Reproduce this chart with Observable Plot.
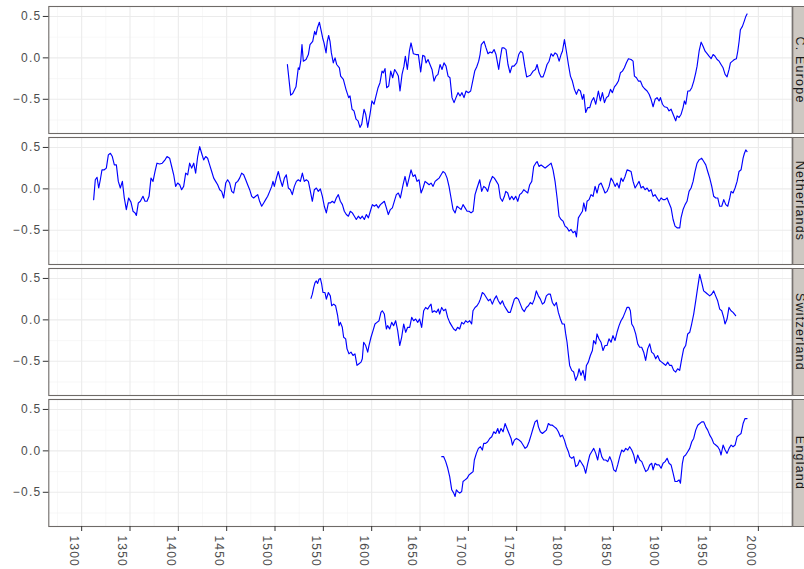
<!DOCTYPE html>
<html>
<head>
<meta charset="utf-8">
<script src="https://cdn.jsdelivr.net/npm/d3@7"></script>
<script src="https://cdn.jsdelivr.net/npm/@observablehq/plot@0.6"></script>
<style>
html, body { margin: 0; padding: 0; background: #ffffff; overflow: hidden; }
#chart svg { display: block; }
#chart svg text { letter-spacing: 1.2px; }
</style>
</head>
<body>
<div id="chart"></div>
<script>
// Facet order (top to bottom)
const regions = ["C. Europe", "Netherlands", "Switzerland", "England"];

// Tick values
const xTicks = [1300, 1350, 1400, 1450, 1500, 1550, 1600, 1650, 1700, 1750, 1800, 1850, 1900, 1950, 2000];
const xMinor = [1275, 1325, 1375, 1425, 1475, 1525, 1575, 1625, 1675, 1725, 1775, 1825, 1875, 1925, 1975, 2025];
const yTicks = [-0.5, 0.0, 0.5];
const yMinor = [-0.75, -0.25, 0.25];

// [year, anomaly] pairs
const cEurope = [[1512.8,-0.08],[1516.2,-0.45],[1518.3,-0.43],[1521.7,-0.35],[1524.1,-0.12],[1525.2,-0.14],[1526.6,-0.04],[1527.9,0.16],[1529.3,-0.04],[1532.1,-0.02],[1534.5,0.04],[1536.2,0.16],[1539.0,0.20],[1541.0,0.32],[1542.4,0.28],[1543.8,0.36],[1545.9,0.43],[1547.2,0.36],[1549.3,0.24],[1550.7,0.18],[1552.8,0.06],[1554.1,0.20],[1555.5,0.27],[1556.9,0.20],[1558.3,0.06],[1560.3,-0.06],[1562.1,0.00],[1563.8,-0.08],[1566.6,-0.12],[1567.9,-0.22],[1570.7,-0.26],[1573.4,-0.38],[1576.2,-0.48],[1577.6,-0.46],[1579.7,-0.62],[1581.7,-0.64],[1583.8,-0.74],[1585.9,-0.76],[1587.9,-0.84],[1589.7,-0.80],[1592.1,-0.62],[1593.8,-0.68],[1595.9,-0.84],[1598.3,-0.68],[1600.3,-0.52],[1602.4,-0.56],[1604.5,-0.46],[1606.6,-0.36],[1608.6,-0.30],[1610.7,-0.16],[1612.1,-0.18],[1613.8,-0.13],[1615.5,-0.36],[1617.6,-0.34],[1619.7,-0.16],[1621.7,-0.24],[1623.8,-0.14],[1625.9,-0.18],[1627.6,-0.22],[1629.3,-0.40],[1631.4,-0.20],[1633.4,-0.10],[1634.8,0.02],[1636.9,-0.14],[1639.0,0.08],[1640.7,0.18],[1643.1,0.05],[1645.9,0.04],[1648.3,0.04],[1650.7,-0.17],[1652.8,0.03],[1654.8,0.02],[1656.2,-0.06],[1658.3,-0.02],[1660.3,-0.08],[1662.4,-0.14],[1664.5,-0.28],[1666.6,-0.22],[1668.6,-0.20],[1670.7,-0.08],[1672.8,-0.14],[1674.8,-0.06],[1676.9,-0.10],[1679.0,-0.22],[1681.0,-0.24],[1683.1,-0.48],[1685.2,-0.54],[1687.2,-0.48],[1689.3,-0.42],[1691.4,-0.46],[1693.4,-0.42],[1695.5,-0.48],[1697.6,-0.40],[1700.0,-0.42],[1702.4,-0.40],[1704.5,-0.28],[1706.6,-0.16],[1708.6,-0.11],[1710.7,-0.04],[1712.1,0.04],[1713.4,0.16],[1716.2,0.20],[1718.3,0.12],[1720.3,0.05],[1722.4,0.07],[1724.5,0.06],[1726.6,0.10],[1728.6,0.04],[1731.4,-0.14],[1732.8,-0.02],[1734.8,0.12],[1736.9,0.12],[1739.0,0.10],[1741.0,-0.08],[1743.1,-0.18],[1745.2,-0.10],[1747.2,-0.10],[1750.0,-0.06],[1752.1,0.04],[1754.1,0.08],[1756.2,0.06],[1758.3,-0.10],[1760.3,-0.23],[1762.4,-0.22],[1764.2,-0.21],[1767.0,-0.16],[1769.4,-0.14],[1771.1,-0.08],[1773.2,-0.18],[1775.2,-0.23],[1777.3,-0.23],[1779.4,-0.16],[1781.4,-0.08],[1783.5,-0.04],[1785.6,0.05],[1787.6,0.02],[1789.7,0.06],[1791.8,0.04],[1793.9,-0.04],[1795.9,0.04],[1797.3,0.08],[1799.4,0.22],[1801.4,0.08],[1803.5,-0.08],[1805.6,-0.22],[1807.6,-0.28],[1809.7,-0.38],[1811.8,-0.44],[1813.9,-0.38],[1815.9,-0.40],[1818.0,-0.50],[1819.4,-0.44],[1821.4,-0.66],[1823.5,-0.60],[1825.6,-0.60],[1827.6,-0.52],[1829.7,-0.48],[1831.8,-0.56],[1834.5,-0.40],[1836.6,-0.52],[1838.7,-0.42],[1840.8,-0.54],[1842.8,-0.48],[1844.9,-0.46],[1847.0,-0.38],[1849.0,-0.42],[1851.1,-0.35],[1853.2,-0.32],[1855.2,-0.28],[1857.3,-0.18],[1859.4,-0.16],[1861.4,-0.12],[1863.5,-0.06],[1865.6,-0.01],[1868.3,-0.02],[1870.4,-0.04],[1871.8,-0.22],[1873.9,-0.24],[1875.9,-0.28],[1878.0,-0.28],[1880.1,-0.34],[1882.1,-0.37],[1884.9,-0.40],[1887.0,-0.44],[1889.0,-0.50],[1891.1,-0.59],[1893.2,-0.50],[1895.2,-0.48],[1897.3,-0.52],[1898.7,-0.48],[1900.8,-0.56],[1902.8,-0.59],[1905.6,-0.60],[1907.6,-0.64],[1909.7,-0.62],[1911.8,-0.68],[1914.5,-0.76],[1915.9,-0.70],[1918.0,-0.72],[1920.1,-0.68],[1922.1,-0.60],[1923.5,-0.52],[1924.9,-0.56],[1927.0,-0.40],[1929.0,-0.40],[1931.1,-0.36],[1933.2,-0.28],[1935.2,-0.18],[1936.6,-0.10],[1938.7,0.08],[1940.8,0.19],[1942.8,0.14],[1944.9,0.08],[1947.0,0.05],[1949.0,0.02],[1951.1,-0.01],[1953.2,0.04],[1955.2,0.02],[1957.3,-0.02],[1959.4,-0.04],[1961.4,-0.08],[1963.5,-0.12],[1965.6,-0.20],[1967.6,-0.23],[1969.7,-0.14],[1971.1,-0.06],[1973.2,-0.04],[1975.2,-0.02],[1977.3,-0.01],[1978.7,0.08],[1980.1,0.20],[1981.4,0.34],[1983.5,0.38],[1985.6,0.45],[1987.0,0.50],[1988.3,0.53]];

const netherlands = [[1312.4,-0.13],[1314.1,0.11],[1315.9,0.14],[1317.6,0.01],[1319.3,0.11],[1321.0,0.23],[1323.4,0.23],[1325.5,0.25],[1327.6,0.41],[1329.7,0.43],[1331.7,0.39],[1333.8,0.29],[1335.9,0.29],[1337.9,0.09],[1340.0,0.01],[1342.1,0.09],[1344.1,-0.11],[1346.2,-0.25],[1348.6,-0.11],[1351.0,-0.16],[1353.1,-0.27],[1355.2,-0.29],[1356.6,-0.32],[1358.6,-0.17],[1360.7,-0.15],[1363.4,-0.09],[1365.5,-0.15],[1367.6,-0.15],[1369.7,-0.09],[1371.7,0.13],[1373.8,0.09],[1375.9,0.21],[1377.9,0.31],[1380.7,0.30],[1383.4,0.31],[1386.2,0.35],[1388.3,0.39],[1391.0,0.37],[1393.1,0.27],[1395.2,0.17],[1397.2,0.03],[1399.3,0.07],[1401.4,0.05],[1403.4,-0.01],[1405.5,0.03],[1407.6,0.19],[1409.7,0.17],[1411.7,0.31],[1413.8,0.25],[1415.9,0.31],[1417.9,0.19],[1420.0,0.39],[1422.1,0.51],[1424.1,0.43],[1426.2,0.35],[1428.3,0.39],[1430.3,0.37],[1432.4,0.29],[1434.5,0.21],[1436.6,0.13],[1438.6,0.09],[1440.7,0.05],[1442.8,-0.01],[1444.8,-0.03],[1446.9,-0.11],[1449.0,0.07],[1451.0,0.11],[1453.1,0.07],[1455.2,-0.03],[1457.2,-0.05],[1459.3,0.07],[1461.4,0.09],[1463.4,0.13],[1465.5,0.19],[1467.6,0.17],[1469.7,0.11],[1471.7,0.05],[1473.8,-0.01],[1475.9,-0.09],[1477.9,-0.11],[1480.0,-0.09],[1482.1,-0.07],[1484.1,-0.15],[1486.2,-0.21],[1488.3,-0.17],[1490.3,-0.13],[1492.4,-0.09],[1494.5,-0.03],[1496.6,0.03],[1497.9,0.09],[1499.3,0.03],[1501.4,0.13],[1503.4,0.21],[1505.5,0.11],[1507.6,0.03],[1509.7,0.13],[1511.7,0.17],[1513.8,0.01],[1515.9,-0.01],[1517.9,-0.07],[1520.0,0.03],[1522.1,0.09],[1524.1,0.11],[1526.2,0.09],[1528.3,0.19],[1530.3,0.09],[1532.4,0.11],[1534.5,0.09],[1536.6,-0.03],[1538.6,-0.15],[1540.7,-0.01],[1542.8,0.01],[1544.8,-0.03],[1546.9,0.00],[1549.0,-0.09],[1551.0,-0.21],[1553.1,-0.29],[1555.2,-0.17],[1557.2,-0.17],[1559.3,-0.15],[1561.4,-0.17],[1563.4,-0.11],[1565.5,-0.07],[1567.6,-0.15],[1569.7,-0.19],[1571.7,-0.27],[1573.8,-0.31],[1575.9,-0.33],[1577.9,-0.27],[1580.0,-0.29],[1582.1,-0.33],[1584.1,-0.37],[1586.2,-0.33],[1588.3,-0.36],[1590.3,-0.33],[1592.4,-0.37],[1594.5,-0.31],[1596.6,-0.35],[1598.6,-0.27],[1600.7,-0.19],[1602.8,-0.21],[1604.8,-0.19],[1606.9,-0.23],[1609.0,-0.19],[1611.0,-0.17],[1613.1,-0.15],[1615.2,-0.23],[1617.2,-0.31],[1619.3,-0.25],[1621.4,-0.23],[1623.4,-0.15],[1625.5,-0.07],[1627.6,-0.05],[1629.7,-0.11],[1632.5,0.05],[1634.5,0.15],[1636.6,0.03],[1638.7,0.13],[1640.7,0.23],[1642.8,0.15],[1644.9,0.17],[1646.9,0.09],[1649.0,0.11],[1651.1,-0.05],[1653.1,0.01],[1655.2,0.09],[1657.3,0.07],[1659.4,0.05],[1661.4,0.07],[1663.5,0.03],[1665.6,0.09],[1667.6,0.11],[1669.7,0.13],[1671.8,0.17],[1673.8,0.21],[1675.9,0.19],[1678.0,0.13],[1680.0,0.03],[1682.1,-0.11],[1684.2,-0.25],[1686.3,-0.29],[1688.3,-0.21],[1690.4,-0.23],[1692.5,-0.25],[1694.5,-0.19],[1696.6,-0.23],[1698.7,-0.27],[1700.7,-0.27],[1702.8,-0.29],[1704.9,-0.27],[1706.9,-0.07],[1709.0,0.01],[1711.8,0.11],[1713.8,-0.03],[1715.9,0.03],[1718.0,0.01],[1720.0,-0.03],[1722.1,0.07],[1724.9,0.15],[1726.9,0.13],[1729.0,0.09],[1731.1,0.05],[1733.1,-0.11],[1735.2,-0.15],[1737.3,-0.09],[1738.7,-0.03],[1740.7,-0.05],[1742.8,-0.13],[1744.9,-0.09],[1746.9,-0.13],[1749.0,-0.09],[1751.1,-0.15],[1753.1,-0.07],[1755.2,-0.05],[1757.3,-0.01],[1759.4,-0.03],[1761.4,-0.05],[1763.5,0.05],[1765.6,0.09],[1767.6,0.27],[1769.7,0.31],[1771.1,0.33],[1773.2,0.27],[1775.2,0.29],[1777.3,0.27],[1779.4,0.25],[1781.4,0.27],[1783.5,0.29],[1785.6,0.31],[1787.6,0.23],[1789.7,0.09],[1791.8,-0.11],[1793.8,-0.33],[1795.9,-0.37],[1798.0,-0.39],[1800.0,-0.45],[1802.1,-0.47],[1804.2,-0.51],[1806.2,-0.49],[1808.3,-0.53],[1810.4,-0.51],[1811.8,-0.58],[1813.8,-0.35],[1815.9,-0.31],[1818.0,-0.27],[1819.4,-0.17],[1821.4,-0.27],[1822.8,-0.15],[1824.9,-0.13],[1826.9,-0.07],[1829.0,-0.09],[1831.1,0.03],[1833.1,-0.05],[1835.2,0.05],[1837.3,0.07],[1839.4,0.01],[1841.4,-0.05],[1843.5,-0.03],[1845.6,0.03],[1847.6,0.13],[1849.7,0.09],[1851.8,0.03],[1853.8,0.07],[1855.9,0.01],[1858.0,0.13],[1860.0,0.09],[1862.1,0.15],[1864.2,0.23],[1866.3,0.22],[1868.3,0.21],[1870.4,0.09],[1872.5,0.01],[1874.5,0.05],[1876.6,0.09],[1878.7,0.01],[1880.7,0.03],[1882.8,-0.01],[1884.9,0.01],[1886.9,-0.03],[1889.0,-0.01],[1891.1,-0.09],[1893.1,-0.07],[1895.2,-0.11],[1897.3,-0.15],[1899.4,-0.11],[1901.4,-0.13],[1903.5,-0.13],[1905.6,-0.11],[1907.6,-0.17],[1909.7,-0.23],[1911.8,-0.37],[1913.8,-0.45],[1915.9,-0.47],[1918.7,-0.47],[1920.0,-0.35],[1922.1,-0.25],[1924.2,-0.19],[1926.2,-0.15],[1928.3,-0.03],[1930.4,0.01],[1932.5,0.09],[1934.5,0.21],[1936.6,0.31],[1938.7,0.35],[1941.4,0.37],[1943.5,0.33],[1945.6,0.29],[1947.6,0.21],[1949.7,0.13],[1951.8,0.03],[1953.8,-0.09],[1955.9,-0.11],[1958.0,-0.11],[1960.0,-0.21],[1962.1,-0.21],[1964.2,-0.13],[1966.3,-0.19],[1968.3,-0.21],[1970.4,-0.11],[1971.8,-0.03],[1973.8,-0.05],[1975.9,0.01],[1978.0,0.09],[1980.0,0.21],[1982.1,0.23],[1984.2,0.37],[1985.6,0.43],[1987.0,0.47],[1988.3,0.45]];

const switzerland = [[1537.2,0.26],[1538.6,0.31],[1540.0,0.39],[1541.4,0.45],[1542.7,0.47],[1544.1,0.44],[1545.5,0.49],[1546.9,0.50],[1548.3,0.43],[1549.6,0.33],[1551.7,0.33],[1553.1,0.25],[1555.2,0.33],[1557.2,0.29],[1558.6,0.17],[1560.7,0.19],[1562.7,0.17],[1564.8,0.05],[1566.2,-0.07],[1567.6,-0.03],[1569.6,-0.09],[1571.0,-0.21],[1573.1,-0.23],[1574.5,-0.35],[1576.5,-0.41],[1578.6,-0.39],[1580.7,-0.43],[1582.7,-0.41],[1584.8,-0.55],[1586.9,-0.53],[1589.0,-0.51],[1590.3,-0.47],[1591.7,-0.27],[1593.8,-0.31],[1595.9,-0.39],[1597.2,-0.31],[1599.3,-0.21],[1601.4,-0.13],[1603.4,-0.05],[1605.5,-0.03],[1607.6,-0.01],[1609.6,0.09],[1611.0,0.11],[1613.1,0.07],[1615.2,-0.11],[1616.5,-0.07],[1618.6,-0.11],[1620.7,-0.03],[1622.7,-0.07],[1624.8,-0.01],[1626.9,-0.13],[1629.0,-0.31],[1631.0,-0.21],[1633.1,-0.05],[1635.2,-0.15],[1637.2,-0.09],[1639.3,-0.09],[1641.4,0.03],[1643.4,-0.01],[1645.5,0.01],[1647.6,-0.03],[1649.6,0.01],[1651.7,-0.09],[1653.8,0.11],[1655.8,0.15],[1657.9,0.13],[1660.0,0.17],[1661.4,0.19],[1662.7,0.09],[1664.8,0.11],[1666.9,0.09],[1669.0,0.13],[1670.3,0.07],[1672.4,0.15],[1674.5,0.11],[1676.5,0.13],[1678.6,0.03],[1680.7,-0.03],[1682.7,-0.07],[1684.8,-0.11],[1686.9,-0.13],[1688.9,-0.09],[1691.0,-0.11],[1693.1,-0.03],[1695.2,-0.05],[1697.2,-0.01],[1699.3,-0.03],[1701.4,-0.01],[1703.4,-0.05],[1704.8,0.11],[1706.9,0.15],[1709.0,0.17],[1711.0,0.21],[1712.4,0.25],[1714.5,0.33],[1716.5,0.31],[1718.6,0.27],[1720.7,0.23],[1722.7,0.25],[1724.8,0.19],[1726.9,0.25],[1729.0,0.29],[1731.0,0.23],[1733.1,0.19],[1735.2,0.23],[1737.2,0.17],[1739.3,0.13],[1741.4,0.09],[1743.4,0.09],[1745.5,0.17],[1747.6,0.25],[1749.6,0.27],[1751.7,0.25],[1753.8,0.19],[1755.8,0.13],[1757.9,0.10],[1760.0,0.15],[1762.1,0.17],[1764.1,0.21],[1766.2,0.19],[1768.3,0.25],[1770.3,0.35],[1772.4,0.29],[1774.5,0.25],[1776.6,0.19],[1778.6,0.21],[1780.7,0.29],[1782.7,0.31],[1784.8,0.31],[1786.9,0.21],[1789.0,0.17],[1791.0,0.21],[1793.1,0.09],[1795.2,0.01],[1797.2,-0.05],[1799.3,-0.05],[1800.7,-0.17],[1802.1,-0.27],[1803.4,-0.41],[1804.8,-0.55],[1806.9,-0.61],[1809.0,-0.63],[1811.0,-0.73],[1813.1,-0.67],[1814.5,-0.59],[1816.5,-0.67],[1818.6,-0.61],[1820.7,-0.73],[1822.1,-0.55],[1824.1,-0.51],[1826.2,-0.43],[1828.3,-0.37],[1829.6,-0.25],[1831.7,-0.29],[1833.1,-0.17],[1835.2,-0.23],[1837.2,-0.27],[1839.3,-0.37],[1841.4,-0.31],[1843.4,-0.31],[1845.5,-0.23],[1847.6,-0.27],[1849.6,-0.19],[1851.7,-0.25],[1853.8,-0.15],[1855.9,-0.07],[1857.9,-0.01],[1860.0,0.03],[1862.1,0.09],[1864.1,0.15],[1866.2,0.15],[1867.6,0.11],[1869.0,-0.05],[1871.0,-0.09],[1873.1,-0.17],[1875.2,-0.29],[1877.2,-0.33],[1879.3,-0.33],[1881.4,-0.39],[1883.4,-0.49],[1885.5,-0.35],[1887.6,-0.29],[1889.6,-0.39],[1891.7,-0.41],[1893.8,-0.47],[1895.8,-0.43],[1897.9,-0.49],[1900.0,-0.51],[1902.1,-0.53],[1904.1,-0.55],[1906.2,-0.51],[1908.3,-0.55],[1910.3,-0.55],[1912.4,-0.61],[1914.5,-0.63],[1916.5,-0.59],[1918.6,-0.61],[1920.7,-0.47],[1922.7,-0.35],[1924.8,-0.31],[1926.9,-0.17],[1929.0,-0.15],[1931.0,-0.05],[1933.1,0.07],[1935.2,0.23],[1937.2,0.39],[1939.3,0.55],[1941.4,0.45],[1943.4,0.35],[1945.5,0.33],[1947.6,0.31],[1949.6,0.29],[1951.7,0.31],[1953.8,0.35],[1955.8,0.29],[1957.9,0.23],[1960.0,0.13],[1962.1,0.11],[1964.1,0.03],[1965.5,-0.05],[1967.6,0.01],[1969.6,0.15],[1971.7,0.11],[1973.8,0.09],[1976.5,0.05]];

const england = [[1672.5,-0.07],[1674.5,-0.07],[1676.6,-0.13],[1678.7,-0.21],[1680.7,-0.31],[1682.8,-0.47],[1684.9,-0.51],[1686.3,-0.55],[1687.6,-0.47],[1689.0,-0.49],[1691.1,-0.51],[1693.1,-0.49],[1694.5,-0.37],[1696.6,-0.35],[1698.7,-0.33],[1700.7,-0.29],[1702.8,-0.27],[1704.9,-0.25],[1706.2,-0.11],[1708.3,-0.03],[1710.4,0.03],[1712.5,0.05],[1714.5,0.01],[1715.9,0.09],[1718.0,0.09],[1720.0,0.11],[1722.1,0.15],[1724.2,0.17],[1726.3,0.23],[1728.3,0.21],[1730.4,0.27],[1731.8,0.21],[1733.8,0.27],[1735.9,0.23],[1738.0,0.33],[1740.0,0.27],[1742.1,0.21],[1744.2,0.15],[1745.6,0.07],[1747.6,0.13],[1749.7,0.15],[1752.5,0.13],[1754.5,0.11],[1756.6,0.07],[1758.7,0.03],[1760.7,0.05],[1762.8,0.11],[1764.9,0.19],[1766.9,0.27],[1769.0,0.35],[1771.1,0.37],[1772.5,0.29],[1774.5,0.23],[1776.6,0.21],[1778.7,0.23],[1780.7,0.25],[1782.8,0.33],[1784.9,0.31],[1786.9,0.31],[1789.0,0.29],[1791.1,0.27],[1793.1,0.23],[1795.2,0.17],[1797.3,0.19],[1799.4,0.13],[1801.4,0.05],[1803.5,-0.01],[1804.9,-0.07],[1807.0,-0.09],[1809.0,-0.07],[1811.1,-0.19],[1813.2,-0.17],[1815.2,-0.11],[1817.3,-0.15],[1819.4,-0.19],[1821.4,-0.27],[1823.5,-0.15],[1825.6,-0.05],[1827.6,-0.01],[1829.7,0.03],[1831.8,-0.03],[1833.8,-0.11],[1835.9,0.03],[1838.0,-0.07],[1840.0,-0.11],[1842.1,-0.11],[1844.2,-0.13],[1846.3,-0.07],[1848.3,-0.13],[1850.4,-0.23],[1852.5,-0.25],[1854.5,-0.17],[1856.6,-0.07],[1858.7,0.01],[1860.7,-0.01],[1862.8,0.03],[1864.9,0.01],[1866.9,0.05],[1869.0,0.01],[1871.1,-0.05],[1873.1,-0.15],[1875.2,-0.05],[1877.3,-0.11],[1879.4,-0.13],[1881.4,-0.19],[1883.5,-0.25],[1885.6,-0.23],[1887.6,-0.17],[1889.7,-0.15],[1891.1,-0.23],[1893.1,-0.15],[1895.2,-0.17],[1897.3,-0.17],[1899.4,-0.21],[1901.4,-0.15],[1903.5,-0.13],[1905.6,-0.09],[1907.6,-0.15],[1909.7,-0.17],[1911.8,-0.27],[1913.8,-0.37],[1915.9,-0.37],[1918.0,-0.35],[1919.4,-0.39],[1921.4,-0.15],[1922.8,-0.07],[1924.8,-0.05],[1926.9,-0.01],[1929.0,0.03],[1931.1,0.11],[1933.1,0.15],[1935.2,0.25],[1937.3,0.31],[1939.4,0.33],[1941.4,0.35],[1943.5,0.35],[1945.6,0.29],[1947.6,0.25],[1949.7,0.19],[1951.8,0.15],[1953.8,0.09],[1955.9,0.07],[1958.0,0.05],[1960.0,0.01],[1961.4,-0.05],[1963.5,0.07],[1965.6,0.01],[1967.6,-0.03],[1969.7,0.03],[1971.8,0.07],[1973.8,0.05],[1975.9,0.07],[1978.0,0.17],[1980.0,0.19],[1982.1,0.21],[1984.2,0.33],[1986.2,0.39],[1988.3,0.39]];

const seriesByRegion = new Map([
  ["C. Europe", cEurope],
  ["Netherlands", netherlands],
  ["Switzerland", switzerland],
  ["England", england]
]);
const rows = regions.flatMap(region =>
  seriesByRegion.get(region).map(([year, value]) => ({region, year, value}))
);

const fmtY = d => d3.format(".1f")(d);
const W = 804, H = 569;
const mL = 48.3, mR = 12.3;
const frameW = W - mL - mR;

const chart = Plot.plot({
  width: W,
  height: H,
  marginLeft: mL,
  marginRight: mR,
  marginTop: 5,
  marginBottom: 42.5,
  style: {fontFamily: "'Liberation Sans', Arial, Helvetica, sans-serif", fontSize: "12px", background: "#ffffff"},
  x: {domain: [1266, 2035], axis: null},
  y: {domain: [-0.913, 0.62], axis: null},
  fy: {domain: regions, padding: 0.031, axis: null},
  marks: [
    Plot.ruleX(xMinor, {stroke: "#f3f3f3", strokeWidth: 0.6}),
    Plot.ruleY(yMinor, {stroke: "#f3f3f3", strokeWidth: 0.6}),
    Plot.ruleX(xTicks, {stroke: "#ebebeb", strokeWidth: 1.1}),
    Plot.ruleY(yTicks, {stroke: "#ebebeb", strokeWidth: 1.1}),
    // strip background to the right of each panel
    Plot.frame({fill: "#cdc8c2", stroke: "#6e6a67", strokeWidth: 1, dx: frameW + 0.6}),
    Plot.line(rows, {x: "year", y: "value", fy: "region", stroke: "#0000ff", strokeWidth: 1.15}),
    Plot.frame({stroke: "#6e6a67", strokeWidth: 1.1}),
    Plot.axisY(yTicks, {label: null, tickSize: 5.5, tickPadding: 2, tickFormat: fmtY, fontSize: 12, stroke: "#333333", fill: "#4d4d4d"}),
    Plot.axisX(xTicks, {label: null, tickSize: 5, tickFormat: () => "", stroke: "#333333", fill: "none"}),
    Plot.text(xTicks, {
      x: d => d, fy: () => "England", text: d => String(d),
      frameAnchor: "bottom", dx: -3, dy: 9, rotate: 90,
      textAnchor: "start", lineAnchor: "top",
      fontSize: 12, fill: "#4d4d4d"
    }),
    Plot.text(regions, {
      fy: d => d, text: d => d,
      frameAnchor: "right", dx: 3.8, rotate: 90,
      textAnchor: "middle", lineAnchor: "bottom",
      fontSize: 12.5, fill: "#1a1a1a"
    })
  ]
});
document.getElementById("chart").appendChild(chart);
</script>
</body>
</html>
